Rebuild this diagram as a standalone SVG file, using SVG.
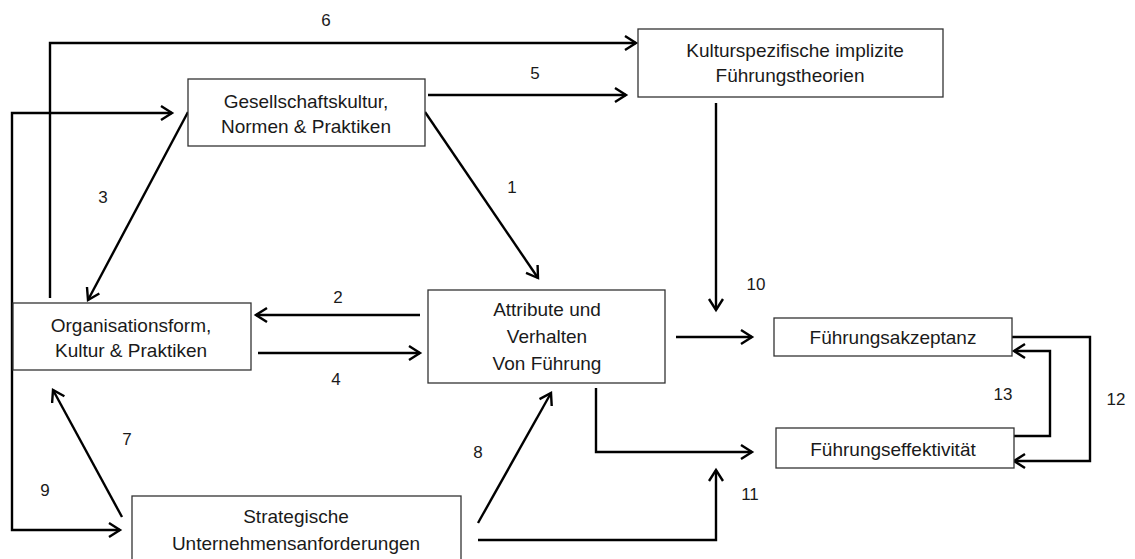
<svg xmlns="http://www.w3.org/2000/svg" width="1135" height="559" viewBox="0 0 1135 559">
<style>
.box{fill:#fff;stroke:#333;stroke-width:1.3}
.t{font-family:"Liberation Sans",Arial,sans-serif;font-size:19px;fill:#1a1a1a;text-anchor:middle}
.n{font-family:"Liberation Sans",Arial,sans-serif;font-size:17px;fill:#1a1a1a;text-anchor:middle}
.c{fill:none;stroke:#000;stroke-width:2.4;stroke-linejoin:miter}
</style>
<defs>
<marker id="a" markerUnits="userSpaceOnUse" markerWidth="20" markerHeight="20" refX="13" refY="8" orient="auto-start-reverse">
<path d="M2,1 L13,8 L2,15" fill="none" stroke="#000" stroke-width="2.4"/>
</marker>
</defs>
<rect width="1135" height="559" fill="#fff"/>
<g id="connectors">
<polyline class="c" points="50,298 50,43 636,43" marker-end="url(#a)"/>
<polyline class="c" points="172,113 12,113 12,530 120,530" marker-end="url(#a)" marker-start="url(#a)"/>
<line class="c" x1="428" y1="95" x2="626" y2="95" marker-end="url(#a)"/>
<line class="c" x1="188" y1="112" x2="88" y2="300" marker-end="url(#a)"/>
<line class="c" x1="425" y1="112" x2="538" y2="278" marker-end="url(#a)"/>
<line class="c" x1="420" y1="315" x2="256" y2="315" marker-end="url(#a)"/>
<line class="c" x1="258" y1="353" x2="420" y2="353" marker-end="url(#a)"/>
<line class="c" x1="716" y1="103" x2="716" y2="310" marker-end="url(#a)"/>
<line class="c" x1="676" y1="337" x2="752" y2="337" marker-end="url(#a)"/>
<polyline class="c" points="596,388 596,452 752,452" marker-end="url(#a)"/>
<polyline class="c" points="478,540 716,540 716,470" marker-end="url(#a)"/>
<line class="c" x1="478" y1="523" x2="551" y2="393" marker-end="url(#a)"/>
<line class="c" x1="122" y1="517" x2="53" y2="390" marker-end="url(#a)"/>
<polyline class="c" points="1012,337 1090,337 1090,461 1014,461" marker-end="url(#a)"/>
<polyline class="c" points="1014,436 1050,436 1050,351 1014,351" marker-end="url(#a)"/>
</g>
<g id="labels">
<text class="n" x="326" y="26">6</text>
<text class="n" x="535" y="79">5</text>
<text class="n" x="103" y="203">3</text>
<text class="n" x="512" y="193">1</text>
<text class="n" x="338" y="303">2</text>
<text class="n" x="336" y="385">4</text>
<text class="n" x="756" y="290">10</text>
<text class="n" x="127" y="445">7</text>
<text class="n" x="478" y="458">8</text>
<text class="n" x="45" y="496">9</text>
<text class="n" x="750" y="500">11</text>
<text class="n" x="1116" y="405">12</text>
<text class="n" x="1003" y="400">13</text>
</g>
<g id="n-gesellschaft">
<rect class="box" x="188" y="79" width="237" height="67"/>
<text class="t" x="306" y="108">Gesellschaftskultur,</text>
<text class="t" x="306" y="133">Normen  &amp; Praktiken</text>
</g>
<g id="n-kulturspezifisch">
<rect class="box" x="638" y="29" width="305" height="68"/>
<text class="t" x="795" y="57">Kulturspezifische  implizite</text>
<text class="t" x="790" y="82">Führungstheorien</text>
</g>
<g id="n-organisation">
<rect class="box" x="13" y="303" width="238" height="67"/>
<text class="t" x="131" y="332">Organisationsform,</text>
<text class="t" x="131" y="357">Kultur  &amp; Praktiken</text>
</g>
<g id="n-attribute">
<rect class="box" x="428" y="290" width="237" height="93"/>
<text class="t" x="547" y="316">Attribute  und</text>
<text class="t" x="547" y="343">Verhalten</text>
<text class="t" x="547" y="370">Von Führung</text>
</g>
<g id="n-akzeptanz">
<rect class="box" x="774" y="318" width="238" height="38"/>
<text class="t" x="893" y="344">Führungsakzeptanz</text>
</g>
<g id="n-effektivitaet">
<rect class="box" x="776" y="428" width="238" height="40"/>
<text class="t" x="893" y="456">Führungseffektivität</text>
</g>
<g id="n-strategisch">
<rect class="box" x="132" y="496" width="329" height="70"/>
<text class="t" x="296" y="523">Strategische</text>
<text class="t" x="296" y="550">Unternehmensanforderungen</text>
</g>
</svg>
